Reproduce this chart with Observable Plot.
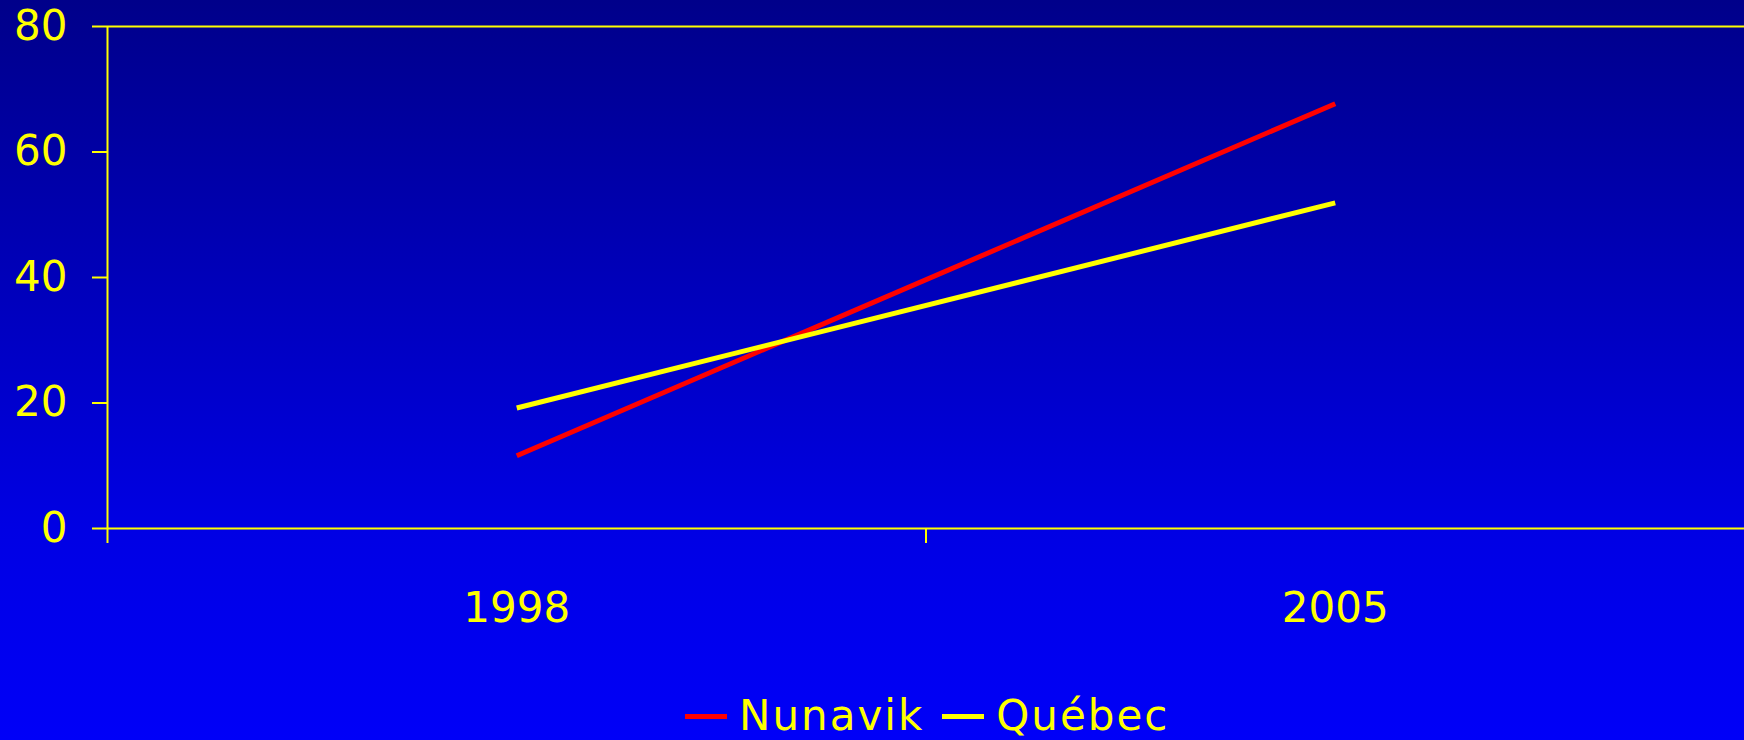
<!DOCTYPE html>
<html><head><meta charset="utf-8">
<script src="https://cdn.jsdelivr.net/npm/d3@7"></script>
<script src="https://cdn.jsdelivr.net/npm/@observablehq/plot@0.6"></script>
<style>
html,body{margin:0;padding:0;width:1744px;height:740px;overflow:hidden;
  background:linear-gradient(to bottom,#00008a 0px,#0000e4 530px,#0000f8 740px);
  font-family:"DejaVu Sans",sans-serif;}
#chart svg{display:block;}
#legend{display:flex;align-items:center;height:46px;margin-top:43px;padding-left:685px;
  font-size:42px;color:#ffff00;line-height:46px;letter-spacing:2px;}
.sw{width:42px;height:5px;margin-right:12px;}
.lab{margin-right:18px;}
</style></head>
<body>
<div id="chart"></div>
<div id="legend"></div>
<script>
const years = ["1998", "2005"];
const nunavik = [11.6, 67.7];
const quebec = [19.2, 51.9];
const yTicks = [0, 20, 40, 60, 80];
const seriesNames = ["Nunavik", "Québec"];
const seriesColors = ["#ff0000", "#ffff00"];

const seriesValues = [nunavik, quebec];
const rows = [];
seriesNames.forEach((s, si) => {
  years.forEach((y, i) => rows.push({series: s, xi: i + 0.5, value: seriesValues[si][i]}));
});

const yellow = "#ffff00";
const chart = Plot.plot({
  width: 1744,
  height: 650,
  marginTop: 26,
  marginLeft: 107,
  marginRight: 0,
  marginBottom: 122,
  style: {background: "transparent", fontFamily: "DejaVu Sans", overflow: "visible"},
  x: {type: "linear", domain: [0, years.length], label: null},
  y: {domain: [0, 80], label: null},
  color: {domain: seriesNames, range: seriesColors},
  marks: [
    Plot.ruleY([0, 80], {stroke: yellow, strokeWidth: 2}),
    Plot.ruleX([0], {y1: 0, y2: 80, stroke: yellow, strokeWidth: 2}),
    Plot.axisY({ticks: yTicks, tickSize: 15, tickPadding: 25, fontSize: 42, fill: yellow, stroke: yellow, strokeWidth: 2, label: null}),
    Plot.axisX({ticks: d3.range(years.length), tickSize: 15, tickFormat: () => "", stroke: yellow, strokeWidth: 2, label: null}),
    Plot.axisX({ticks: years.map((y, i) => i + 0.5), tickSize: 0, tickPadding: 64, fontSize: 42, fill: yellow, label: null,
      tickFormat: d => years[Math.floor(d)]}),
    Plot.line(rows, {x: "xi", y: "value", z: "series", stroke: "series", strokeWidth: 5, strokeLinecap: "butt"})
  ]
});
document.getElementById("chart").appendChild(chart);

const legend = document.getElementById("legend");
seriesNames.forEach((s, i) => {
  const sw = document.createElement("div");
  sw.className = "sw";
  sw.style.background = seriesColors[i];
  legend.appendChild(sw);
  const lab = document.createElement("span");
  lab.className = "lab";
  lab.textContent = s;
  legend.appendChild(lab);
});
</script>
</body></html>
